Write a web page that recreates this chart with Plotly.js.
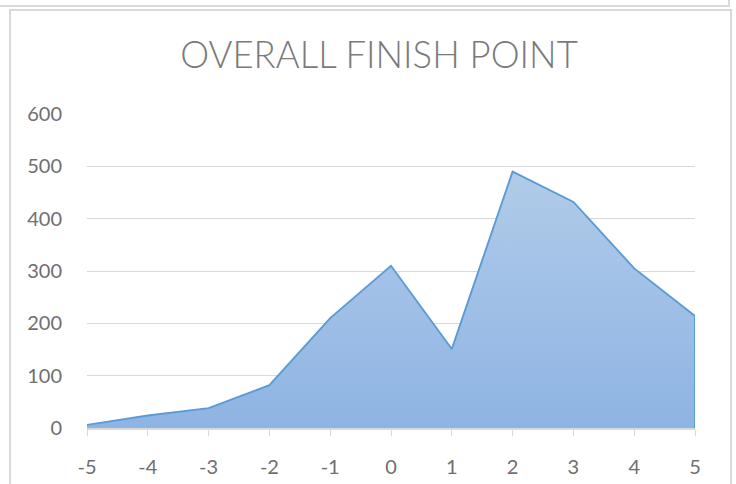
<!DOCTYPE html>
<html>
<head>
<meta charset="utf-8">
<script src="https://cdn.plot.ly/plotly-3.0.1.min.js"></script>
<style>
  html, body { margin: 0; padding: 0; background: #ffffff; }
  #wrap { position: relative; width: 736px; height: 484px; overflow: hidden; }
  #chart { position: absolute; left: 0; top: 0; width: 736px; height: 484px; }
  .b { position: absolute; background: #d9d9d9; pointer-events: none; }
</style>
</head>
<body>
<div id="wrap">
  <div id="chart"></div>
  <div class="b" style="left:0;top:5px;width:730px;height:2px;"></div>
  <div class="b" style="left:728px;top:0;width:2px;height:7px;"></div>
  <div class="b" style="left:9px;top:9px;width:723px;height:2px;"></div>
  <div class="b" style="left:9px;top:9px;width:2px;height:475px;"></div>
  <div class="b" style="left:730px;top:9px;width:2px;height:475px;"></div>
</div>
<script>
const categories = [-5, -4, -3, -2, -1, 0, 1, 2, 3, 4, 5];
const finishCounts = [6, 24, 38, 82, 210, 310, 151, 490, 432, 305, 214];
const yTicks = [0, 100, 200, 300, 400, 500, 600];
const titleText = "OVERALL FINISH POINT";

const lastX = categories[categories.length - 1];
const lastY = finishCounts[finishCounts.length - 1];

const traces = [
  {
    type: 'scatter',
    mode: 'lines',
    x: categories,
    y: finishCounts,
    fill: 'tozeroy',
    fillgradient: {
      type: 'vertical',
      colorscale: [[0, '#8eb4e3'], [1, '#b1cbe9']]
    },
    line: { color: '#5b9bd5', width: 1.9 },
    hoverinfo: 'skip',
    showlegend: false
  },
  {
    type: 'scatter',
    mode: 'lines',
    x: [lastX, lastX],
    y: [lastY, 0],
    line: { color: '#5b9bd5', width: 1.9 },
    hoverinfo: 'skip',
    showlegend: false
  }
];

const layout = {
  width: 736,
  height: 484,
  margin: { l: 87, r: 41, t: 114, b: 56 },
  paper_bgcolor: 'rgba(0,0,0,0)',
  plot_bgcolor: 'rgba(0,0,0,0)',
  showlegend: false,
  title: {
    text: titleText,
    font: { family: 'Lato', size: 36.5, weight: 300, color: '#7a7a7a' },
    x: 379 / 736,
    xref: 'container',
    xanchor: 'center',
    y: 1 - 55 / 484,
    yref: 'container',
    yanchor: 'middle'
  },
  xaxis: {
    type: 'linear',
    range: [categories[0], lastX],
    tickmode: 'array',
    tickvals: categories,
    ticktext: categories.map(String),
    showgrid: false,
    zeroline: false,
    showline: true,
    linecolor: '#d9d9d9',
    linewidth: 1.5,
    ticks: 'outside',
    ticklen: 6,
    tickcolor: '#d9d9d9',
    tickwidth: 1,
    ticklabelstandoff: 14,
    tickfont: { family: 'Lato', size: 20, color: '#6f6f6f' },
    fixedrange: true
  },
  yaxis: {
    range: [0, 600],
    tickmode: 'array',
    tickvals: yTicks,
    ticktext: yTicks.map(String),
    showgrid: true,
    gridcolor: '#d9d9d9',
    gridwidth: 1,
    zeroline: false,
    showline: false,
    ticks: '',
    ticklabelstandoff: 24,
    tickfont: { family: 'Lato', size: 20, color: '#6f6f6f' },
    fixedrange: true
  }
};

Plotly.newPlot('chart', traces, layout, { displayModeBar: false, staticPlot: true });
</script>
</body>
</html>
